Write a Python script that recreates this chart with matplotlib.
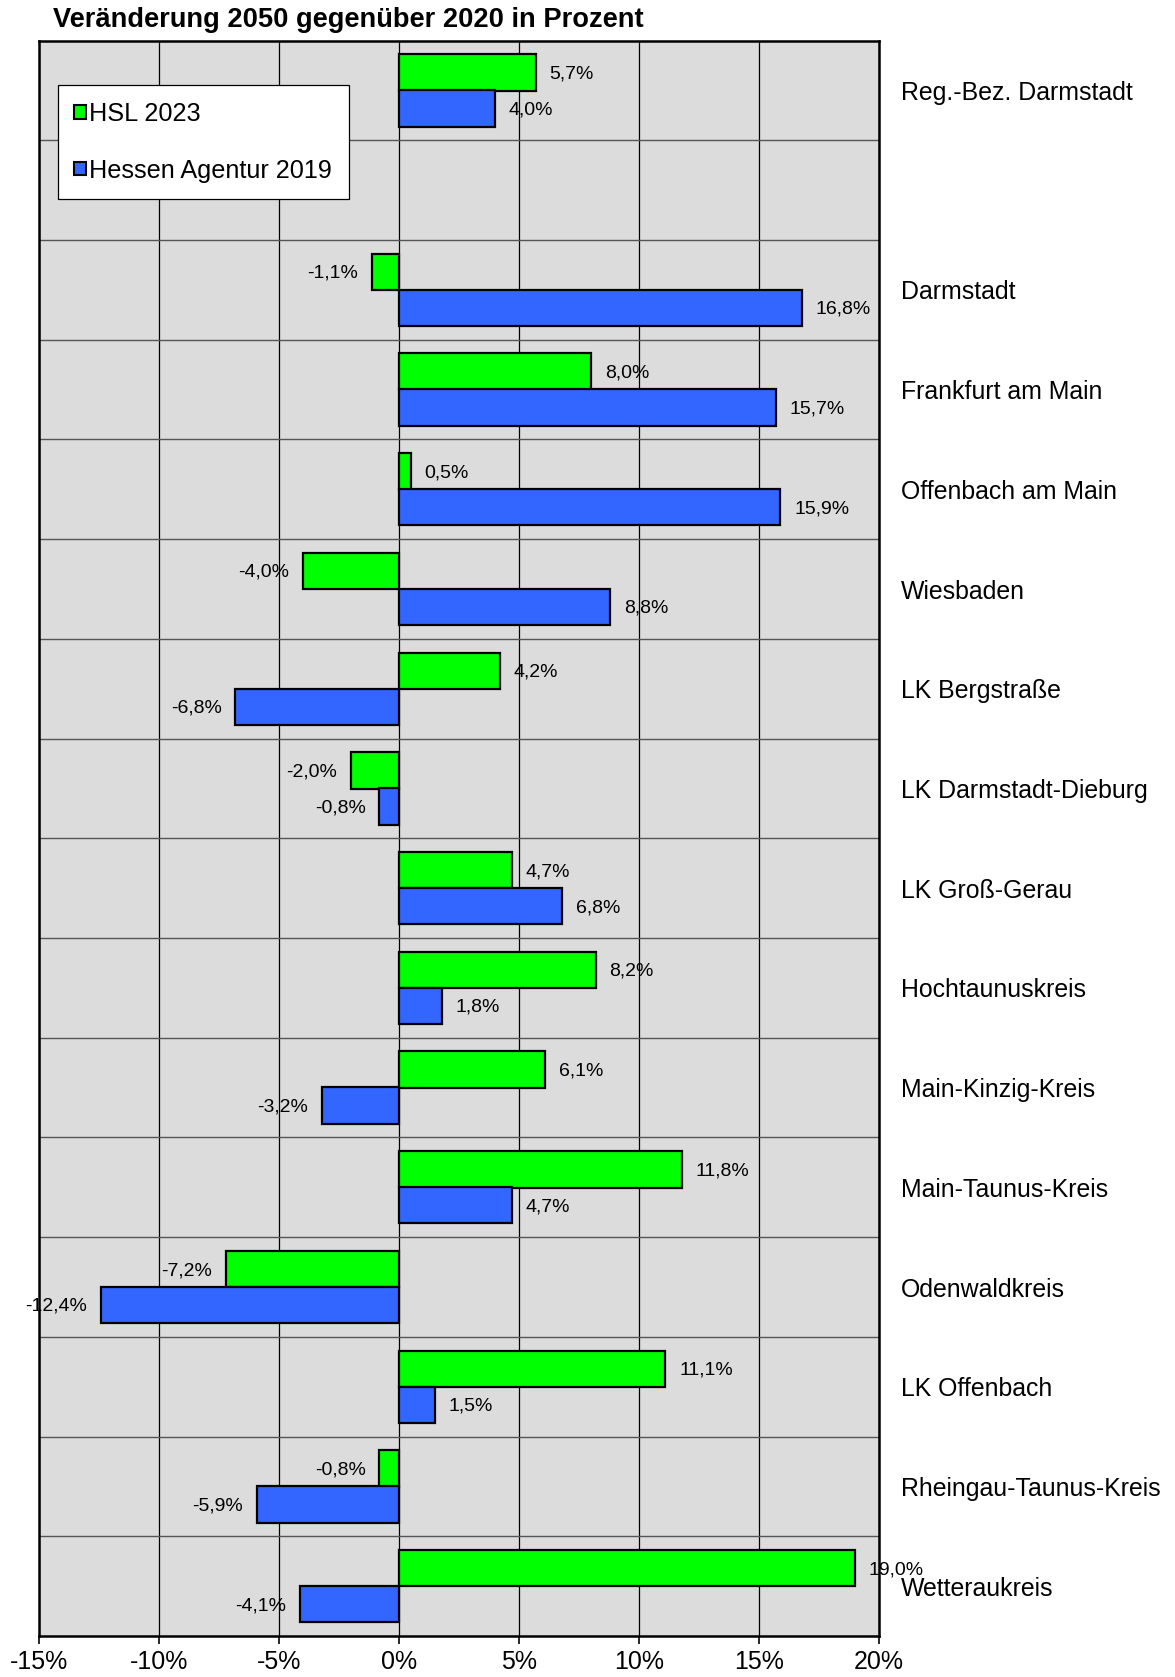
import numpy as np
import matplotlib
matplotlib.use("Agg")
import matplotlib.pyplot as plt
from matplotlib.ticker import FixedLocator, FuncFormatter
from matplotlib.patches import Patch

plt.rcParams['font.family'] = ['Liberation Sans', 'DejaVu Sans']

# Regions (top to bottom); the empty slot separates the district total from the rest
categories = [
    "Reg.-Bez. Darmstadt", "", "Darmstadt", "Frankfurt am Main",
    "Offenbach am Main", "Wiesbaden", "LK Bergstraße", "LK Darmstadt-Dieburg",
    "LK Groß-Gerau", "Hochtaunuskreis", "Main-Kinzig-Kreis", "Main-Taunus-Kreis",
    "Odenwaldkreis", "LK Offenbach", "Rheingau-Taunus-Kreis", "Wetteraukreis",
]
hsl_2023 = [5.7, np.nan, -1.1, 8.0, 0.5, -4.0, 4.2, -2.0, 4.7, 8.2, 6.1, 11.8,
            -7.2, 11.1, -0.8, 19.0]
hessen_agentur_2019 = [4.0, np.nan, 16.8, 15.7, 15.9, 8.8, -6.8, -0.8, 6.8, 1.8,
                       -3.2, 4.7, -12.4, 1.5, -5.9, -4.1]
series_names = ["HSL 2023", "Hessen Agentur 2019"]
x_ticks = [-15, -10, -5, 0, 5, 10, 15, 20]

GREEN = "#00FF00"
BLUE = "#3366FF"
BG = "#DCDCDC"

fig = plt.figure(figsize=(11.75, 16.77), dpi=100)
ax = fig.add_axes([0.0328, 0.0244, 0.748 - 0.0328, 0.9758 - 0.0244])
ax.set_facecolor(BG)

y = np.arange(len(categories))
h = 0.365
off = 0.18

def pct(v):
    return f"{v:.1f}".replace(".", ",") + "%"

for vals, color, sign in ((hsl_2023, GREEN, -1), (hessen_agentur_2019, BLUE, 1)):
    vals = np.array(vals, dtype=float)
    pos = y + sign * off
    ax.barh(pos, vals, height=h, color=color, edgecolor="black",
            linewidth=1.6, zorder=3)
    for p, v in zip(pos, vals):
        if np.isnan(v):
            continue
        ax.annotate(pct(v), (v, p), xytext=(10 if v >= 0 else -10, -1),
                    textcoords="offset points", ha="left" if v >= 0 else "right",
                    va="center", fontsize=14, color="black", zorder=4)

ax.set_xlim(-15, 20)
ax.set_ylim(len(categories) - 0.5, -0.5)

# x axis: percent ticks with vertical gridlines
ax.xaxis.set_major_locator(FixedLocator(x_ticks))
ax.xaxis.set_major_formatter(FuncFormatter(lambda v, _: f"{v:.0f}%"))
ax.tick_params(axis="x", direction="out", length=6, width=1.2, pad=4,
               labelsize=18)
ax.grid(axis="x", which="major", color="black", linewidth=0.9, zorder=1)

# y axis: category names on the right, separators between slots
ax.yaxis.tick_right()
ax.set_yticks(y)
ax.set_yticklabels(categories, fontsize=17.9)
ax.tick_params(axis="y", which="major", length=0, pad=16)
ax.yaxis.set_minor_locator(FixedLocator(np.arange(0.5, len(categories) - 0.5, 1)))
ax.tick_params(axis="y", which="minor", length=0)
ax.grid(axis="y", which="minor", color="#555555", linewidth=1.0, zorder=1)
ax.set_axisbelow(True)

for s in ax.spines.values():
    s.set_linewidth(1.8)
    s.set_color("black")
    s.set_zorder(5)

handles = [Patch(facecolor=GREEN, edgecolor="black", linewidth=1.5),
           Patch(facecolor=BLUE, edgecolor="black", linewidth=1.5)]
leg = ax.legend(handles, series_names, loc="upper left",
                bbox_to_anchor=(0.0228, 0.9719), borderaxespad=0,
                fontsize=18.2, frameon=True, fancybox=False, framealpha=1,
                edgecolor="black", handlelength=0.45, handleheight=0.45,
                handletextpad=0.15, labelspacing=1.3, borderpad=0.65)
leg.get_frame().set_linewidth(0.9)
leg.set_zorder(6)

fig.text(53 / 1175, 1 - 20 / 1677, "Veränderung 2050 gegenüber 2020 in Prozent",
         fontsize=19.6, fontweight="bold", ha="left", va="center")

fig.savefig("out.png", dpi=100, facecolor="white")
